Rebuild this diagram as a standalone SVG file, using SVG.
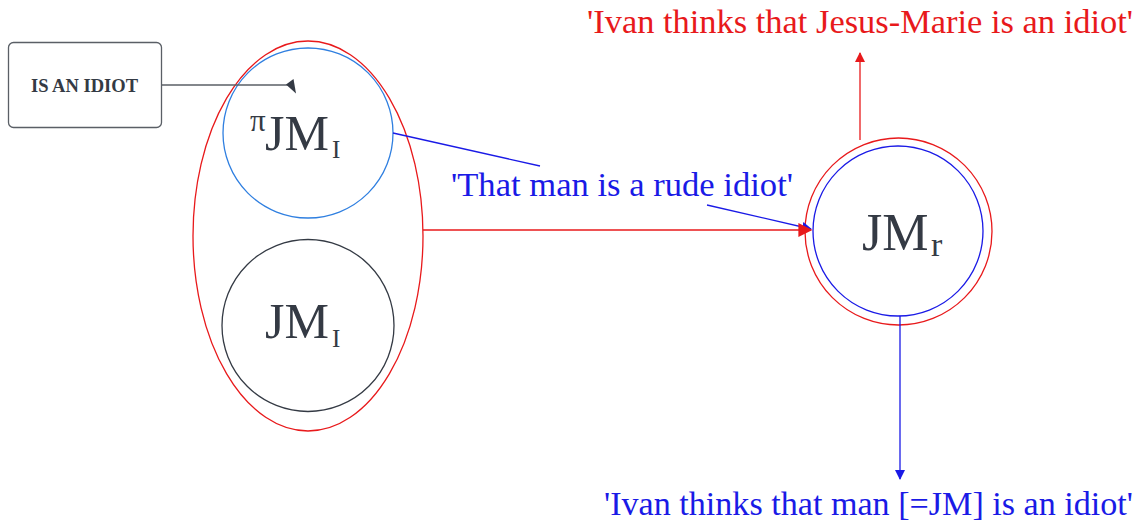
<svg xmlns="http://www.w3.org/2000/svg" width="1143" height="525" viewBox="0 0 1143 525">
<style>
.lbl{font-family:"Liberation Serif","DejaVu Serif",serif;}
.node{fill:none;stroke-width:1.3;}
.dark{fill:#343a44;}
.red{fill:#e8191b;}
.blue{fill:#1a1ae6;}
</style>
<defs>
<marker id="ar" viewBox="0 0 10 10" refX="9" refY="5" markerWidth="10" markerHeight="10" markerUnits="userSpaceOnUse" orient="auto"><path d="M0,0 L10,5 L0,10 z" fill="#e8191b"/></marker>
<marker id="ab" viewBox="0 0 10 10" refX="9" refY="5" markerWidth="10" markerHeight="10" markerUnits="userSpaceOnUse" orient="auto"><path d="M0,0 L10,5 L0,10 z" fill="#1a1ae6"/></marker>
<marker id="arL" viewBox="0 0 10 10" refX="9" refY="5" markerWidth="16" markerHeight="14" markerUnits="userSpaceOnUse" orient="auto"><path d="M0,0 L10,5 L0,10 z" fill="#e8191b"/></marker>
</defs>
<rect width="1143" height="525" fill="#fff"/>
<g id="box">
<rect x="8.5" y="42.5" width="153" height="85" rx="5" fill="#fff" stroke="#5a5f66" stroke-width="1.3"/>
<text x="31" y="92" class="lbl dark" font-size="19" font-weight="bold" textLength="107" lengthAdjust="spacingAndGlyphs">IS AN IDIOT</text>
</g>
<g id="group-ellipse">
<ellipse cx="308" cy="236" rx="115" ry="195" class="node" stroke="#e8191b"/>
</g>
<g id="pi-jm">
<circle cx="308" cy="133" r="85" class="node" stroke="#2f7fe0"/>
<text x="250" y="131" class="lbl dark" font-size="31">π</text>
<text x="265" y="150" class="lbl dark" font-size="50">JM</text>
<text x="332" y="158" class="lbl dark" font-size="25">I</text>
</g>
<g id="jm">
<circle cx="308" cy="325.5" r="86" class="node" stroke="#343a44"/>
<text x="265" y="338" class="lbl dark" font-size="50">JM</text>
<text x="332" y="347" class="lbl dark" font-size="25">I</text>
</g>
<g id="jm-r">
<circle cx="898.5" cy="231.5" r="93.5" class="node" stroke="#e8191b"/>
<circle cx="898" cy="231" r="85" class="node" stroke="#1a1ae6"/>
<text x="862" y="250" class="lbl dark" font-size="52">JM</text>
<text x="931" y="256" class="lbl dark" font-size="34">r</text>
</g>
<g id="connectors" fill="none" stroke-width="1.3">
<line x1="162" y1="85" x2="290" y2="85" stroke="#5a5f66"/>
<polygon points="286,84.5 293.5,79 296,93.5" fill="#343a44"/>
<line x1="393" y1="133" x2="540" y2="166" stroke="#1a1ae6"/>
<line x1="707" y1="205" x2="811" y2="229" stroke="#1a1ae6" marker-end="url(#ab)"/>
<line x1="423" y1="230" x2="811" y2="230" stroke="#e8191b" marker-end="url(#arL)"/>
<line x1="860" y1="140" x2="860" y2="53" stroke="#e8191b" marker-end="url(#ar)"/>
<line x1="900" y1="316" x2="900" y2="479" stroke="#1a1ae6" marker-end="url(#ab)"/>
</g>
<g id="labels">
<text x="451" y="196" class="lbl blue" font-size="33" textLength="342" lengthAdjust="spacingAndGlyphs">'That man is a rude idiot'</text>
<text x="587" y="33" class="lbl red" font-size="33" textLength="546" lengthAdjust="spacingAndGlyphs">'Ivan thinks that Jesus-Marie is an idiot'</text>
<text x="604" y="515" class="lbl blue" font-size="33" textLength="529" lengthAdjust="spacingAndGlyphs">'Ivan thinks that man [=JM] is an idiot'</text>
</g>
</svg>
